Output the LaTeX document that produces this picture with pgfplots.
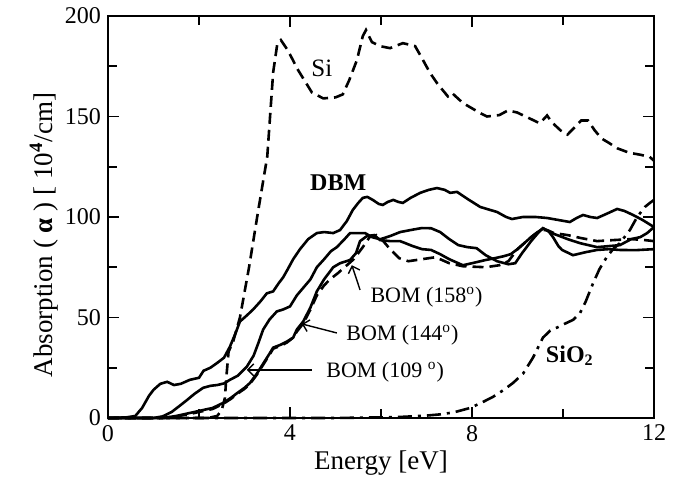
\documentclass[border=0pt]{standalone}
\usepackage{fontspec}
\setmainfont{Liberation Serif}
\usepackage{pgfplots}
\pgfplotsset{compat=1.18}
\usetikzlibrary{arrows.meta}

\begin{document}
\begin{tikzpicture}
\begin{axis}[
    width=273pt, height=201pt, scale only axis,
    xmin=0, xmax=12, ymin=0, ymax=200,
    xtick={0,4,8,12}, minor xtick={2,6,10},
    ytick={0,50,100,150,200}, minor ytick={25,75,125,175},
    tick align=inside,
    major tick length=5.5pt, minor tick length=4.5pt,
    axis line style={line width=1pt},
    every tick/.style={black, line width=0.8pt},
    tick label style={font=\fontsize{12}{14}\selectfont},
    /pgf/number format/assume math mode=true,
    xlabel={Energy [eV]},
    ylabel={Absorption ( \textbf{α} ) [ 10\textsuperscript{\textbf{4}}/cm]},
    label style={font=\fontsize{13.5}{15}\selectfont},
    xlabel style={at={(axis description cs:0.5,-0.112)}, anchor=center},
    ylabel style={at={(axis description cs:-0.117,0.455)}, anchor=center},
    clip=false,
  ]
  % Si
  \addplot[black, line width=1.3pt, dash pattern=on 5.5pt off 3pt] coordinates {
    (0,0) (2.2,0) (2.4,1) (2.5,4) (2.57,10) (2.6,20) (2.65,33) (2.75,38)
    (2.9,50) (3.1,75) (3.3,103) (3.5,130) (3.63,172) (3.72,186) (3.8,188)
    (3.95,183) (4.18,173) (4.48,162) (4.73,159) (5.0,159.5) (5.16,161)
    (5.3,168) (5.47,178) (5.6,190) (5.67,193) (5.8,187) (5.98,185) (6.2,184)
    (6.48,186.5) (6.75,185) (6.9,179) (7.08,171.6) (7.25,166) (7.36,163)
    (7.47,160) (7.56,161.7) (7.8,156.7) (8.18,151.7) (8.33,150) (8.6,150.7)
    (8.79,153) (8.99,152) (9.27,149) (9.49,146.6) (9.65,150.5) (9.76,147)
    (9.95,143) (10.1,141) (10.25,144.5) (10.4,148) (10.55,148) (10.7,143)
    (10.85,139) (11.0,137) (11.19,134.2) (11.45,132) (11.69,131) (11.9,130)
    (12,128)
  };
  % DBM
  \addplot[black, line width=1.3pt] coordinates {
    (0,0) (0.4,0.3) (0.6,1) (0.75,5) (0.9,11) (1.0,14) (1.15,17) (1.3,18)
    (1.45,16.4) (1.6,17) (1.8,19) (2.0,20) (2.1,23.5) (2.25,25) (2.4,27.4)
    (2.55,30) (2.68,35.5) (2.8,42) (2.9,48) (3.05,51) (3.19,54) (3.35,58)
    (3.49,62) (3.63,63) (3.75,67) (3.85,70) (3.95,74) (4.07,79) (4.22,84)
    (4.4,89) (4.59,92) (4.75,92.5) (4.95,92) (5.1,93.5) (5.25,98) (5.38,103.5)
    (5.5,107) (5.6,109.5) (5.7,110) (5.82,108.5) (5.95,106.5) (6.04,106)
    (6.15,107.5) (6.27,108.5) (6.38,107.5) (6.48,107) (6.65,109.5) (6.86,112)
    (7.05,113.5) (7.23,114.4) (7.4,113.5) (7.52,112) (7.67,112.5) (7.9,109)
    (8.18,105) (8.4,103.5) (8.55,102.5) (8.75,100) (8.88,99) (9.12,100)
    (9.4,100) (9.65,99.5) (9.9,98.5) (10.15,97.5) (10.3,99.5) (10.44,101)
    (10.6,100) (10.75,99.5) (10.95,101.5) (11.19,104) (11.35,103) (11.54,101)
    (11.75,98.5) (12,95)
  };
  % BOM 109
  \addplot[black, line width=1.3pt] coordinates {
    (0,0) (1.0,0) (1.2,0.8) (1.4,3) (1.6,6.5) (1.74,9) (1.9,12) (2.09,15)
    (2.25,16) (2.4,16.4) (2.55,17.2) (2.68,19) (2.85,21) (3.05,25.5) (3.2,31)
    (3.3,37) (3.41,44) (3.55,49) (3.71,53) (3.85,54) (4.0,55.5) (4.15,61)
    (4.3,65) (4.45,69) (4.59,75) (4.75,79) (4.9,83) (5.03,85) (5.2,89)
    (5.32,92) (5.5,92) (5.65,92) (5.8,90) (5.98,88.9) (6.2,90.5) (6.42,92.5)
    (6.72,93.8) (6.9,94.5) (7.1,94.4) (7.3,92.5) (7.5,89) (7.7,86) (7.9,85)
    (8.1,84.5) (8.3,81) (8.55,78) (8.8,76.5) (8.95,77) (9.1,82) (9.3,88)
    (9.45,92) (9.56,94.4) (9.68,93) (9.78,90) (9.9,85.5) (9.98,83.6)
    (10.22,81) (10.5,82.5) (10.75,83.6) (11.0,84) (11.25,83.6) (11.6,83.5)
    (12,84)
  };
  % BOM 144
  \addplot[black, line width=1.3pt] coordinates {
    (0,0) (1.2,0) (1.5,1) (1.8,2.5) (2.1,4) (2.3,5) (2.53,7.5) (2.7,10)
    (2.84,12.4) (3.0,15) (3.12,17.4) (3.27,22) (3.41,27) (3.55,32) (3.63,35)
    (3.8,36.5) (3.93,38) (4.07,40) (4.15,44) (4.29,48) (4.45,55) (4.59,63)
    (4.75,69) (4.95,75) (5.1,77) (5.32,78.6) (5.45,82) (5.54,88) (5.69,90.5)
    (5.85,91) (5.98,88.5) (6.2,88) (6.42,88) (6.7,85.5) (6.9,84) (7.1,83.6)
    (7.3,81.5) (7.5,79) (7.8,76) (8.0,77) (8.3,78.6) (8.5,79.5) (8.7,80.5)
    (8.85,81.5) (9.0,84) (9.3,90) (9.56,94.4) (9.75,92) (9.87,91) (10.1,89)
    (10.37,87) (10.75,85) (11.0,85.5) (11.25,86) (11.5,89) (11.7,90)
    (11.85,92) (12,95)
  };
  % BOM 158
  \addplot[black, line width=1.3pt, dash pattern=on 5.5pt off 3pt] coordinates {
    (0,0) (1.2,0) (1.5,0.8) (1.8,2) (2.1,3.5) (2.3,4.5) (2.53,7) (2.7,9.5)
    (2.84,12) (3.0,14.5) (3.12,17) (3.27,21.5) (3.41,26.5) (3.55,31.5)
    (3.63,34.5) (3.8,36) (3.93,37.5) (4.07,40) (4.15,43) (4.29,47) (4.45,54)
    (4.59,61) (4.75,66) (4.88,69) (5.05,72) (5.25,76) (5.4,79) (5.6,85)
    (5.75,90) (5.9,91) (6.05,88) (6.2,84) (6.4,79.5) (6.6,78) (6.9,79)
    (7.2,80) (7.5,77) (7.8,75.5) (8.3,75) (8.6,76) (8.8,78) (9.0,84) (9.3,90)
    (9.5,93.5) (9.65,93.5) (9.8,92) (10.1,91) (10.4,89.5) (10.75,88)
    (11.1,88.5) (11.5,89) (11.8,88.5) (12,88)
  };
  % SiO2
  \addplot[black, line width=1.3pt, dash pattern=on 7pt off 3pt on 1.5pt off 3pt] coordinates {
    (0,0) (5,0) (6,0.3) (6.5,0.6) (7,1.2) (7.3,1.8) (7.6,2.8) (7.96,5)
    (8.2,7.5) (8.46,10.5) (8.7,14) (8.9,17.4) (9.12,22) (9.34,30) (9.56,40)
    (9.72,43.5) (9.87,45) (10.05,47) (10.22,48.8) (10.37,52) (10.5,58)
    (10.66,67) (10.8,74) (10.96,80) (11.1,84) (11.25,87) (11.47,93.5)
    (11.63,100) (11.8,105) (11.91,107) (12,108.5)
  };

  \node[font=\fontsize{12.5}{14}\selectfont] at (axis cs:4.70,174) {Si};
  \node[font=\bfseries\fontsize{12}{14}\selectfont] at (axis cs:5.06,117) {DBM};
  \node[font=\bfseries\fontsize{12}{14}\selectfont] at (axis cs:10.15,31) {SiO\textsubscript{2}};
  \node[font=\fontsize{11}{13}\selectfont] at (axis cs:7.0,60) {BOM (158\textsuperscript{o})};
  \node[font=\fontsize{11}{13}\selectfont] at (axis cs:6.47,41) {BOM (144\textsuperscript{o})};
  \node[font=\fontsize{11}{13}\selectfont] at (axis cs:6.09,23) {BOM (109 \textsuperscript{o})};
  \draw[-{Straight Barb[length=3pt]}, line width=0.7pt] (axis cs:5.54,63.7) -- (axis cs:5.36,76);
  \draw[-{Straight Barb[length=3pt]}, line width=0.7pt] (axis cs:5.03,42.3) -- (axis cs:4.26,46.8);
  \draw[-{Straight Barb[length=3pt]}, line width=0.7pt] (axis cs:4.48,23.9) -- (axis cs:3.05,23.9);
\end{axis}
\path ([shift={(-54pt,-29pt)}]current axis.south west) rectangle ([shift={(16pt,8pt)}]current axis.north east);
\end{tikzpicture}
\end{document}
